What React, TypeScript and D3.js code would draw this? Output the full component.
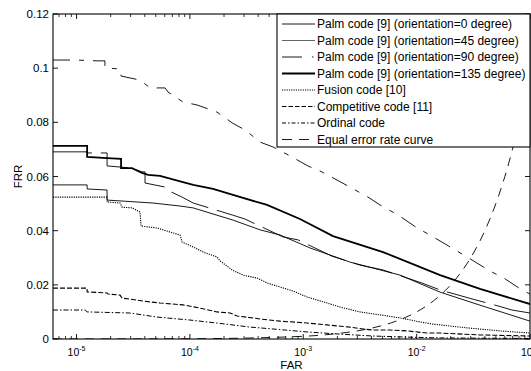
import React from 'react';
import * as d3 from 'd3';

const width = 531;
const height = 371;
const plot = { left: 53, right: 530, top: 14, bottom: 339 };
const font = 'Liberation Sans, Arial, Helvetica, sans-serif';

// axis
const farMin = 6.2e-6;
const farMax = 0.1;
const frrTicks = [0, 0.02, 0.04, 0.06, 0.08, 0.1, 0.12];
const frrTickLabels = ['0', '0.02', '0.04', '0.06', '0.08', '0.1', '0.12'];
const farTicks = [1e-5, 1e-4, 1e-3, 1e-2, 1e-1];
const farTickExp = ['-5', '-4', '-3', '-2', '-1'];

// Palm code, orientation=0 (thin solid)
const palm0Far = [6.2e-6, 1.24e-5, 1.24e-5, 1.86e-5, 1.86e-5, 4.73e-5, 8.18e-5, 1.07e-4, 2.4e-4, 4.16e-4, 6.24e-4, 1.15e-3, 2.58e-3, 7.13e-3, 1.61e-2, 3.62e-2, 0.1];
const palm0Frr = [0.0569, 0.0569, 0.0554, 0.055, 0.0513, 0.0502, 0.0491, 0.0484, 0.0439, 0.0403, 0.0384, 0.0336, 0.0284, 0.0236, 0.0173, 0.0125, 0.0066];

// Palm code, orientation=45 (top, broken)
const palm45Far = [6.2e-6, 9.7e-6, 1.55e-5, 1.78e-5, 1.78e-5, 2.42e-5, 2.47e-5, 3.63e-5, 4.45e-5, 6.04e-5, 6.41e-5, 8.69e-5, 1.16e-4, 1.73e-4, 2.36e-4, 3.06e-4, 4.16e-4, 5.41e-4, 7.96e-4, 1.1e-3, 1.46e-3, 2.58e-3, 3.72e-3, 4.75e-3, 6.85e-3, 1.01e-2, 1.31e-2, 1.85e-2, 2.78e-2, 4.44e-2, 6.03e-2, 8.49e-2, 0.1];
const palm45Frr = [0.103, 0.103, 0.1027, 0.1027, 0.1001, 0.0997, 0.0971, 0.0956, 0.0927, 0.0927, 0.0912, 0.0875, 0.0864, 0.0838, 0.0798, 0.0772, 0.0727, 0.0709, 0.0672, 0.0639, 0.0617, 0.0561, 0.0524, 0.0495, 0.0458, 0.041, 0.0384, 0.0347, 0.0303, 0.0251, 0.0222, 0.0181, 0.0166];

// Palm code, orientation=90 (long dash)
const palm90Far = [6.2e-6, 1.24e-5, 1.24e-5, 1.86e-5, 1.86e-5, 2.42e-5, 3.09e-5, 3.78e-5, 4.02e-5, 4.02e-5, 6.04e-5, 6.28e-5, 8.53e-5, 1.07e-4, 2.36e-4, 3.06e-4, 6.62e-4, 8.99e-4, 1.79e-3, 3.16e-3, 5.05e-3, 1.11e-2, 1.61e-2, 3.08e-2, 5.22e-2, 6.93e-2, 0.1];
const palm90Frr = [0.0691, 0.0691, 0.0687, 0.0687, 0.0639, 0.0635, 0.0631, 0.0617, 0.0617, 0.0576, 0.0561, 0.055, 0.0524, 0.0502, 0.0458, 0.0443, 0.0377, 0.0366, 0.0306, 0.0273, 0.0255, 0.0207, 0.0181, 0.0148, 0.0122, 0.0107, 0.0096];

// Palm code, orientation=135 (thick)
const palm135Far = [6.2e-6, 1.24e-5, 1.24e-5, 1.86e-5, 2.47e-5, 2.47e-5, 3.09e-5, 3.78e-5, 4.28e-5, 5.45e-5, 8.53e-5, 1.07e-4, 1.6e-4, 2.4e-4, 4.79e-4, 9.35e-4, 1.83e-3, 5.05e-3, 1.61e-2, 3.62e-2, 0.1];
const palm135Frr = [0.0713, 0.0713, 0.0672, 0.0668, 0.0665, 0.0631, 0.0631, 0.0613, 0.0606, 0.0602, 0.058, 0.0569, 0.0554, 0.0532, 0.0495, 0.0443, 0.038, 0.0321, 0.0236, 0.0185, 0.0129];

// Fusion code [10]
const fusionFar = [6.2e-6, 1.86e-5, 1.86e-5, 2.42e-5, 2.52e-5, 3.09e-5, 3.63e-5, 3.71e-5, 5.13e-5, 6.68e-5, 8.18e-5, 8.53e-5, 1.07e-4, 1.31e-4, 1.73e-4, 1.85e-4, 2.36e-4, 2.94e-4, 3.91e-4, 4.79e-4, 6.24e-4, 8.13e-4, 1.08e-3, 1.62e-3, 2.11e-3, 3.16e-3, 4.75e-3, 7.13e-3, 1.07e-2, 1.39e-2, 2.78e-2, 5.43e-2, 0.1];
const fusionFrr = [0.0524, 0.0524, 0.0506, 0.0502, 0.0487, 0.0484, 0.0469, 0.0417, 0.041, 0.0395, 0.0384, 0.0358, 0.034, 0.0321, 0.0303, 0.0288, 0.0255, 0.0236, 0.0225, 0.0207, 0.0192, 0.0177, 0.0155, 0.0133, 0.0118, 0.01, 0.0089, 0.0078, 0.0063, 0.0055, 0.0041, 0.003, 0.0022];

// Competitive code [11]
const compFar = [6.2e-6, 1.24e-5, 1.24e-5, 1.86e-5, 1.9e-5, 2.42e-5, 2.52e-5, 4.45e-5, 5.45e-5, 8.69e-5, 1.23e-4, 1.73e-4, 2.26e-4, 2.61e-4, 4.16e-4, 6.24e-4, 1.08e-3, 1.62e-3, 2.58e-3, 3.37e-3, 4.12e-3, 5.82e-3, 8.22e-3, 1.23e-2, 1.61e-2, 3.62e-2, 0.1];
const compFrr = [0.0188, 0.0188, 0.0174, 0.017, 0.0166, 0.0162, 0.0151, 0.0137, 0.0133, 0.0126, 0.0114, 0.01, 0.0096, 0.0085, 0.0074, 0.0066, 0.0059, 0.0052, 0.0044, 0.0037, 0.0033, 0.0033, 0.003, 0.0022, 0.0022, 0.0015, 0.0011];

// Ordinal code
const ordFar = [6.2e-6, 1.19e-5, 1.24e-5, 2.96e-5, 5.13e-5, 1.0e-4, 1.73e-4, 3.39e-4, 5.41e-4, 1.08e-3, 2.11e-3, 4.12e-3, 8.22e-3, 1.61e-2, 0.1];
const ordFrr = [0.0107, 0.0107, 0.01, 0.0096, 0.0081, 0.007, 0.0059, 0.0044, 0.0037, 0.0026, 0.0018, 0.0011, 0.0007, 0.0004, 0.0002];

// Equal error rate curve (FRR = FAR)
const eerFar = [6.2e-6, 1e-4, 1e-3, 2e-3, 3e-3, 4e-3, 5e-3, 6e-3, 7e-3, 8e-3, 9e-3, 0.01, 0.012, 0.014, 0.016, 0.018, 0.02, 0.025, 0.03, 0.035, 0.04, 0.045, 0.05, 0.06, 0.07, 0.08, 0.09, 0.1];
const eerFrr = [6.2e-6, 1e-4, 1e-3, 2e-3, 3e-3, 4e-3, 5e-3, 6e-3, 7e-3, 8e-3, 9e-3, 0.01, 0.012, 0.014, 0.016, 0.018, 0.02, 0.025, 0.03, 0.035, 0.04, 0.045, 0.05, 0.06, 0.07, 0.08, 0.09, 0.1];

const legendLabels = [
  'Palm code [9] (orientation=0 degree)',
  'Palm code [9] (orientation=45 degree)',
  'Palm code [9] (orientation=90 degree)',
  'Palm code [9] (orientation=135 degree)',
  'Fusion code [10]',
  'Competitive code [11]',
  'Ordinal code',
  'Equal error rate curve',
];

const zip = (a: number[], b: number[]) => a.map((v, i) => [v, b[i]] as [number, number]);

const series = [
  { pts: zip(palm0Far, palm0Frr), w: 0.9, dash: 'none', color: '#000', smooth: false },
  { pts: zip(palm45Far, palm45Frr), w: 0.9, dash: '17,9,5,9', color: '#000', smooth: false },
  { pts: zip(palm90Far, palm90Frr), w: 0.9, dash: '40,9', color: '#000', smooth: false },
  { pts: zip(palm135Far, palm135Frr), w: 1.8, dash: 'none', color: '#000', smooth: false },
  { pts: zip(fusionFar, fusionFrr), w: 1.1, dash: '1.2,1.1', color: '#000', smooth: false },
  { pts: zip(compFar, compFrr), w: 1.1, dash: '5,2', color: '#000', smooth: false },
  { pts: zip(ordFar, ordFrr), w: 1, dash: '5,2,1.5,2', color: '#000', smooth: false },
  { pts: zip(eerFar, eerFrr), w: 0.9, dash: '9,7', color: '#000', smooth: true },
];

const legendStyles = [
  { w: 0.9, dash: 'none', color: '#000' },
  { w: 0.9, dash: 'none', color: '#555' },
  { w: 0.9, dash: '20,10,1.5,10', color: '#000' },
  { w: 1.8, dash: 'none', color: '#000' },
  { w: 1.1, dash: '1.2,1.1', color: '#000' },
  { w: 1.1, dash: '4.5,2', color: '#000' },
  { w: 1, dash: '4,2,1.5,2', color: '#000' },
  { w: 0.9, dash: '10,7', color: '#000' },
];

export default function App() {
  const x = d3.scaleLog().domain([farMin, farMax]).range([plot.left, plot.right]);
  const y = d3.scaleLinear().domain([0, 0.12]).range([plot.bottom, plot.top]);

  const line = d3.line<[number, number]>().x(d => x(d[0])).y(d => y(d[1]));
  const smoothLine = d3.line<[number, number]>().x(d => x(d[0])).y(d => y(d[1])).curve(d3.curveMonotoneX);

  const minorTicks = x.ticks().filter(t => !farTicks.some(m => Math.abs(m - t) / m < 1e-6));

  const lg = { x: 277, y: 14, w: 253, h: 133, row0: 24, step: 16.5 };

  return (
    <div style={{ position: 'absolute', left: 0, top: 0 }}>
      <svg width={width} height={height} style={{ display: 'block', background: '#fff' }} fontFamily={font}>
        <defs>
          <clipPath id="plotclip">
            <rect x={plot.left} y={plot.top} width={plot.right - plot.left} height={plot.bottom - plot.top} />
          </clipPath>
        </defs>
        <rect x={0} y={0} width={width} height={height} fill="#fff" />

        <g clipPath="url(#plotclip)">
          {series.map((s, i) => (
            <path
              key={i}
              d={(s.smooth ? smoothLine : line)(s.pts) || ''}
              fill="none"
              stroke={s.color}
              strokeWidth={s.w}
              strokeDasharray={s.dash}
            />
          ))}
        </g>

        {/* frame */}
        <rect
          x={plot.left}
          y={plot.top}
          width={plot.right - plot.left}
          height={plot.bottom - plot.top}
          fill="none"
          stroke="#000"
          strokeWidth={1.1}
        />

        {/* y ticks */}
        {frrTicks.map((t, i) => (
          <g key={'y' + i}>
            <line x1={plot.left} x2={plot.left + 5} y1={y(t)} y2={y(t)} stroke="#000" strokeWidth={0.9} />
            <line x1={plot.right} x2={plot.right - 5} y1={y(t)} y2={y(t)} stroke="#000" strokeWidth={0.9} />
            <text x={plot.left - 4} y={y(t)} dy="0.35em" textAnchor="end" fontSize={11.5}>
              {frrTickLabels[i]}
            </text>
          </g>
        ))}

        {/* x ticks */}
        {farTicks.map((t, i) => (
          <g key={'x' + i}>
            <line x1={x(t)} x2={x(t)} y1={plot.bottom} y2={plot.bottom - 5} stroke="#000" strokeWidth={0.9} />
            <line x1={x(t)} x2={x(t)} y1={plot.top} y2={plot.top + 5} stroke="#000" strokeWidth={0.9} />
            <text x={x(t)} y={plot.bottom + 17} textAnchor="middle" fontSize={10.5}>
              10
              <tspan dy={-5} fontSize={7}>
                {farTickExp[i]}
              </tspan>
            </text>
          </g>
        ))}
        {minorTicks.map((t, i) => (
          <g key={'m' + i}>
            <line x1={x(t)} x2={x(t)} y1={plot.bottom} y2={plot.bottom - 3} stroke="#000" strokeWidth={0.8} />
            <line x1={x(t)} x2={x(t)} y1={plot.top} y2={plot.top + 3} stroke="#000" strokeWidth={0.8} />
          </g>
        ))}

        <text x={(plot.left + plot.right) / 2} y={369} textAnchor="middle" fontSize={11.5}>
          FAR
        </text>
        <text
          transform={`translate(22,${(plot.top + plot.bottom) / 2}) rotate(-90)`}
          textAnchor="middle"
          fontSize={11.5}
        >
          FRR
        </text>

        {/* legend */}
        <rect x={lg.x} y={lg.y} width={lg.w} height={lg.h} fill="#fff" stroke="#000" strokeWidth={1.1} />
        {legendLabels.map((label, i) => {
          const ry = lg.row0 + i * lg.step;
          const st = legendStyles[i];
          return (
            <g key={'l' + i}>
              <line
                x1={282}
                x2={315}
                y1={ry}
                y2={ry}
                stroke={st.color}
                strokeWidth={st.w}
                strokeDasharray={st.dash}
              />
              <text x={317} y={ry} dy="0.35em" fontSize={12}>
                {label}
              </text>
            </g>
          );
        })}
      </svg>
    </div>
  );
}
